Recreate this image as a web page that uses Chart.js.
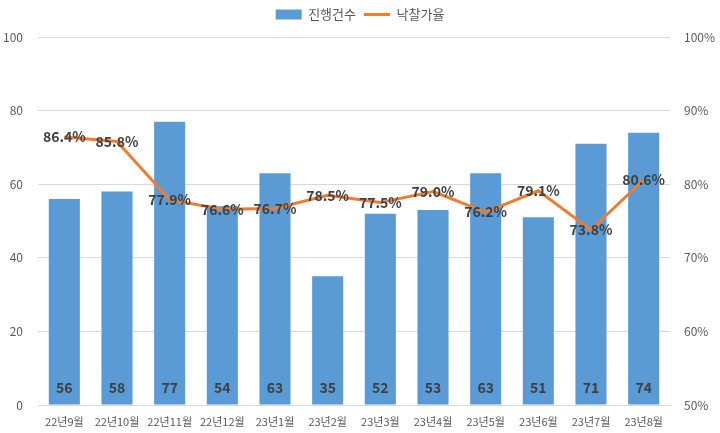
<!DOCTYPE html>
<html>
<head>
<meta charset="utf-8">
<script src="https://cdn.jsdelivr.net/npm/chart.js@4"></script>
<style>
  html, body { margin: 0; padding: 0; background: #fff; }
  #wrap { width: 720px; height: 433px; }
</style>
</head>
<body>
<div id="wrap"><canvas id="chart"></canvas></div>
<script>
// ===============================
// DATA
// ===============================
const months = ["22년9월", "22년10월", "22년11월", "22년12월", "23년1월", "23년2월",
  "23년3월", "23년4월", "23년5월", "23년6월", "23년7월", "23년8월"];
const cases = [56, 58, 77, 54, 63, 35, 52, 53, 63, 51, 71, 74];
const rates = [86.4, 85.8, 77.9, 76.6, 76.7, 78.5, 77.5, 79.0, 76.2, 79.1, 73.8, 80.6];

const FONT = "'Noto Sans CJK KR', 'Noto Sans', sans-serif";
const BLUE = "#5b9bd5";
const ORANGE = "#ed7d31";

// value labels drawn at the library's element positions
const valueLabels = {
  id: "valueLabels",
  afterDatasetsDraw(chart) {
    const ctx = chart.ctx;
    ctx.save();
    ctx.font = "bold 14px " + FONT;
    ctx.fillStyle = "#404040";
    ctx.textAlign = "center";
    ctx.textBaseline = "middle";

    chart.getDatasetMeta(0).data.forEach((bar, i) => {
      ctx.fillText(cases[i], bar.x, bar.base - 17);
    });

    chart.getDatasetMeta(1).data.forEach((p, i) => {
      ctx.fillText(rates[i].toFixed(1) + "%", p.x, p.y);
    });
    ctx.restore();
  }
};

// a little room between legend and plot
const legendGap = {
  id: "legendGap",
  beforeInit(chart) {
    const fit = chart.legend.fit;
    chart.legend.fit = function () {
      fit.bind(chart.legend)();
      this.height += 6;
    };
  }
};

new Chart(document.getElementById("chart"), {
  data: {
    labels: months,
    datasets: [
      {
        type: "bar",
        label: "진행건수",
        data: cases,
        yAxisID: "y",
        backgroundColor: BLUE,
        categoryPercentage: 1,
        barPercentage: 0.59,
        order: 1,
        pointStyle: "rect"
      },
      {
        type: "line",
        label: "낙찰가율",
        data: rates,
        yAxisID: "y2",
        borderColor: ORANGE,
        backgroundColor: ORANGE,
        borderWidth: 3,
        pointRadius: 0,
        tension: 0,
        order: 0,
        pointStyle: "line"
      }
    ]
  },
  options: {
    responsive: true,
    maintainAspectRatio: false,
    animation: false,
    layout: { padding: 0 },
    plugins: {
      tooltip: { enabled: false },
      legend: {
        position: "top",
        labels: {
          usePointStyle: true,
          pointStyleWidth: 26,
          boxHeight: 10,
          padding: 8,
          color: "#595959",
          font: { family: FONT, size: 13 },
          sort: (a, b) => a.datasetIndex - b.datasetIndex
        }
      }
    },
    scales: {
      x: {
        grid: { display: false, drawTicks: false },
        border: { color: "#d9d9d9" },
        ticks: {
          color: "#595959",
          font: { family: FONT, size: 11 },
          maxRotation: 0,
          autoSkip: false,
          padding: 10
        },
        afterFit(scale) { scale.height = 28; }
      },
      y: {
        position: "left",
        min: 0,
        max: 100,
        ticks: {
          stepSize: 20,
          color: "#595959",
          font: { family: FONT, size: 12 },
          padding: 15
        },
        grid: { color: "#d9d9d9", drawTicks: false },
        border: { display: false },
        afterFit(scale) { scale.width = 38; }
      },
      y2: {
        position: "right",
        min: 50,
        max: 100,
        ticks: {
          stepSize: 10,
          color: "#595959",
          font: { family: FONT, size: 12 },
          padding: 14,
          callback: v => v + "%"
        },
        grid: { display: false, drawTicks: false },
        border: { display: false },
        afterFit(scale) { scale.width = 50; }
      }
    }
  },
  plugins: [valueLabels, legendGap]
});
</script>
</body>
</html>
